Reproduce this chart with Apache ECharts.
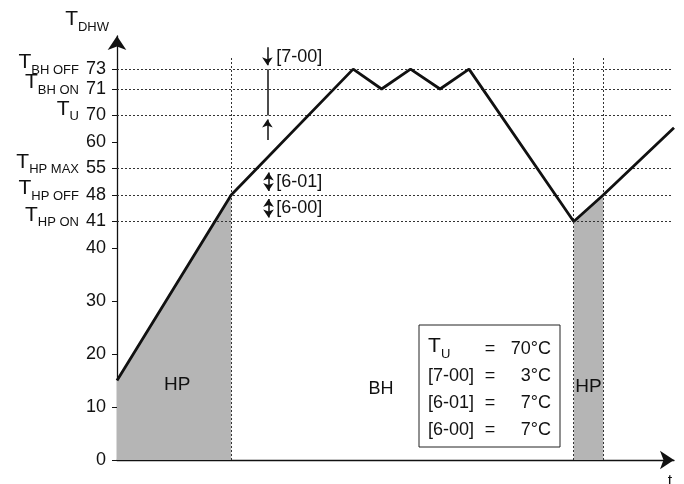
<!DOCTYPE html>
<html>
<head>
<meta charset="utf-8">
<script src="https://cdn.jsdelivr.net/npm/echarts@6/dist/echarts.min.js"></script>
<style>
  html, body { margin: 0; padding: 0; background: #fff; }
  #main { width: 684px; height: 484px; }
</style>
</head>
<body>
<div id="main"></div>
<script>
// y axis is schematic: each labelled temperature sits on its own slot
var tickTemps = [0, 10, 20, 30, 40, 41, 48, 55, 60, 70, 71, 73];
var tickSlots = [0, 8, 16, 24, 32, 36, 40, 44, 48, 52, 56, 59];
var tickNames = ['', '', '', '', '', 'HP ON', 'HP OFF', 'HP MAX', '', 'U', 'BH ON', 'BH OFF'];

// DHW temperature over time
var timeData = [0, 20.5, 42.4, 47.5, 52.7, 58.0, 63.2, 82.0, 87.3, 100];
var tempData = [15, 48, 73, 71, 73, 71, 73, 41, 48, 65.4];

// heat pump periods (index ranges into the curve)
var hpRanges = [[0, 1], [7, 8]];
var gridTemps = [73, 71, 70, 55, 48, 41];
var switchTimes = [20.5, 82.0, 87.3];

var settings = [
    ['T', 'U', '=', '70°C'],
    ['[7-00]', '', '=', '3°C'],
    ['[6-01]', '', '=', '7°C'],
    ['[6-00]', '', '=', '7°C']
];

// temperature -> slot position on the y axis (piecewise linear)
function pos(t) {
    for (var i = 1; i < tickTemps.length; i++) {
        if (t <= tickTemps[i] || i == tickTemps.length - 1) {
            var t0 = tickTemps[i - 1], t1 = tickTemps[i];
            var s0 = tickSlots[i - 1], s1 = tickSlots[i];
            return s0 + (t - t0) / (t1 - t0) * (s1 - s0);
        }
    }
}

var font = 'Liberation Sans, Arial, sans-serif';
var ink = '#111';
var slotMax = 64;   // 424 px of axis -> 6.625 px per unit

var curve = timeData.map(function (x, i) { return [x, pos(tempData[i])]; });

var hpSeries = hpRanges.map(function (r) {
    return {
        type: 'line',
        data: curve.slice(r[0], r[1] + 1),
        showSymbol: false,
        lineStyle: { width: 0 },
        areaStyle: { color: '#b5b5b5', opacity: 1 },
        silent: true,
        z: 1
    };
});

var guideLines = [];
gridTemps.forEach(function (t) {
    guideLines.push([{ coord: [0, pos(t)] }, { coord: [99.6, pos(t)] }]);
});
switchTimes.forEach(function (x) {
    guideLines.push([{ coord: [x, 0] }, { coord: [x, 60.7] }]);
});

var inset = 0.6;
var dimLines = [
    [{ coord: [27, 62.3], symbol: 'none' }, { coord: [27, pos(73) + inset], symbol: 'arrow' }],
    [{ coord: [27, pos(73)], symbol: 'none' }, { coord: [27, pos(70)], symbol: 'none' }],
    [{ coord: [27, 48.3], symbol: 'none' }, { coord: [27, pos(70) - inset], symbol: 'arrow' }],
    [{ coord: [27.2, pos(55) - inset], symbol: 'arrow' }, { coord: [27.2, pos(48) + inset], symbol: 'arrow' }],
    [{ coord: [27.2, pos(48) - inset], symbol: 'arrow' }, { coord: [27.2, pos(41) + inset], symbol: 'arrow' }]
];

var notes = [
    { name: '[7-00]', value: [28.6, 60.8] },
    { name: '[6-01]', value: [28.6, (pos(55) + pos(48)) / 2] },
    { name: '[6-00]', value: [28.6, (pos(48) + pos(41)) / 2] }
];
var modes = [
    { name: 'HP', value: [10.8, 11.3], label: { fontSize: 19 } },
    { name: 'BH', value: [47.4, 10.7], label: { fontSize: 18 } },
    { name: 'HP', value: [84.65, 11.0], label: { fontSize: 19 } }
];

// thin token boxes (glyphs overflow) so neighbouring labels do not collide
var labelRich = {
    t: { fontSize: 21, lineHeight: 1, padding: [0, 0, 13, 0], color: ink, fontFamily: font },
    s: { fontSize: 13, lineHeight: 2, padding: [7, 0, 5, 0], color: ink, fontFamily: font },
    n: { fontSize: 18, lineHeight: 2, padding: [6, 0, 6, 7], color: ink, fontFamily: font }
};

var legendGraphics = [{
    type: 'rect',
    shape: { x: 419, y: 325, width: 141, height: 122 },
    style: { fill: '#fff', stroke: '#222', lineWidth: 1 },
    z: 50
}];
settings.forEach(function (row, i) {
    var cy = 349 + i * 27;
    legendGraphics.push({
        type: 'text', z: 51,
        style: { text: row[0], x: 428, y: row[1] ? cy - 3 : cy, fill: ink, font: (row[1] ? '21px ' : '18px ') + font, verticalAlign: 'middle' }
    });
    if (row[1]) {
        legendGraphics.push({
            type: 'text', z: 51,
            style: { text: row[1], x: 441, y: cy + 5, fill: ink, font: '13px ' + font, verticalAlign: 'middle' }
        });
    }
    legendGraphics.push({
        type: 'text', z: 51,
        style: { text: row[2], x: 490, y: cy, fill: ink, font: '18px ' + font, align: 'center', verticalAlign: 'middle' }
    });
    legendGraphics.push({
        type: 'text', z: 51,
        style: { text: row[3], x: 551, y: cy, fill: ink, font: '18px ' + font, align: 'right', verticalAlign: 'middle' }
    });
});
legendGraphics.push({
    type: 'text', z: 51,
    style: { text: 't', x: 670, y: 474, fill: ink, font: '16px ' + font, align: 'center', verticalAlign: 'top' }
});

var chart = echarts.init(document.getElementById('main'));
var option = {
    animation: false,
    textStyle: { fontFamily: font },
    grid: { left: 117, right: 10, top: 36, bottom: 24 },
    xAxis: {
        type: 'value',
        min: 0,
        max: 100,
        axisLine: { lineStyle: { color: ink, width: 1.3 }, symbol: ['none', 'arrow'], symbolSize: [14, 14] },
        axisTick: { show: false },
        axisLabel: { show: false },
        splitLine: { show: false }
    },
    yAxis: {
        type: 'value',
        min: 0,
        max: slotMax,
        name: '{t|T}{s|DHW}',
        nameLocation: 'end',
        nameGap: 3,
        nameMoveOverlap: false,
        nameTextStyle: {
            align: 'right',
            verticalAlign: 'bottom',
            padding: [0, 8, 0, 0],
            rich: {
                t: { fontSize: 21, lineHeight: 22, padding: [0, 0, 6, 0], color: ink, fontFamily: font },
                s: { fontSize: 13, lineHeight: 13, padding: [13, 0, 2, 0], color: ink, fontFamily: font }
            }
        },
        axisLine: { lineStyle: { color: ink, width: 1.3 }, symbol: ['none', 'arrow'], symbolSize: [14, 14] },
        axisTick: { customValues: tickSlots, length: 5, lineStyle: { color: ink } },
        axisLabel: {
            // blank label at the axis end keeps the min/max overlap check off the real labels
            customValues: tickSlots.concat([slotMax]),
            margin: 11,
            hideOverlap: false,
            formatter: function (v) {
                var i = tickSlots.indexOf(Math.round(v));
                if (i < 0) return ' ';
                return tickNames[i]
                    ? '{t|T}{s|' + tickNames[i] + '}{n|' + tickTemps[i] + '}'
                    : '{n|' + tickTemps[i] + '}';
            },
            rich: labelRich
        },
        splitLine: { show: false }
    },
    graphic: legendGraphics,
    series: hpSeries.concat([
        {
            type: 'line',
            data: [],
            silent: true,
            markLine: {
                silent: true,
                symbol: ['none', 'none'],
                label: { show: false },
                lineStyle: { type: [2, 2], color: '#333', width: 1 },
                emphasis: { disabled: true },
                data: guideLines
            },
            z: 2
        },
        {
            type: 'line',
            data: [],
            silent: true,
            markLine: {
                silent: true,
                symbolSize: [8, 8],
                label: { show: false },
                lineStyle: { type: 'solid', color: ink, width: 1.5 },
                emphasis: { disabled: true },
                data: dimLines
            },
            z: 3
        },
        {
            type: 'line',
            data: curve,
            showSymbol: false,
            lineStyle: { color: ink, width: 2.8 },
            silent: true,
            z: 5
        },
        {
            type: 'scatter',
            data: notes,
            symbolSize: 0,
            silent: true,
            itemStyle: { opacity: 1 },
            label: { show: true, formatter: '{b}', position: 'right', distance: 0, fontSize: 18, color: ink, fontFamily: font },
            z: 6
        },
        {
            type: 'scatter',
            data: modes,
            symbolSize: 0,
            silent: true,
            itemStyle: { opacity: 1 },
            label: { show: true, formatter: '{b}', position: 'inside', color: ink, fontFamily: font },
            z: 6
        }
    ])
};
chart.setOption(option);
window.addEventListener('resize', function () {
    chart.resize();
});
</script>
</body>
</html>
